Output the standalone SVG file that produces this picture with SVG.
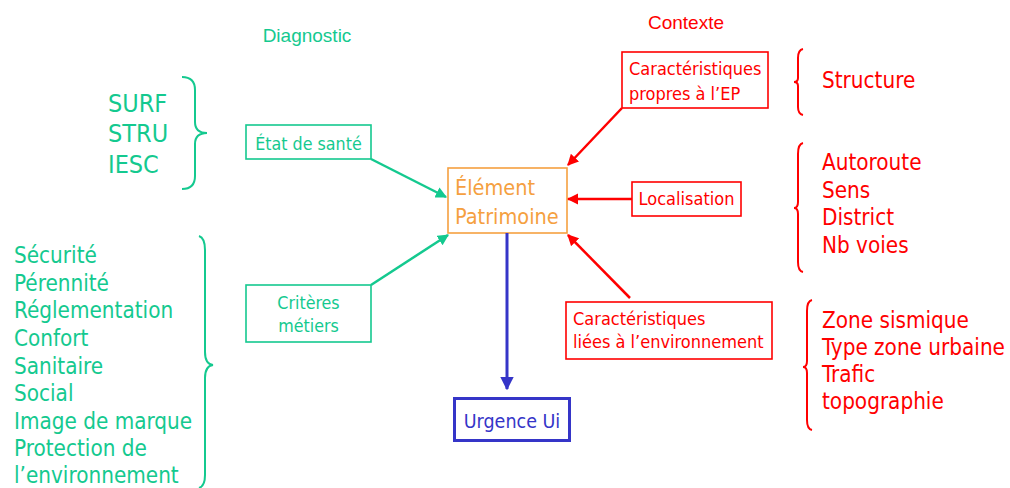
<svg xmlns="http://www.w3.org/2000/svg" width="1010" height="488" viewBox="0 0 1010 488">
<style>
.t{font-family:"DejaVu Sans Condensed","DejaVu Sans",sans-serif}
.h{font-family:"Liberation Sans",Arial,sans-serif;font-size:19px}
.g{fill:#14C98F}
.r{fill:#FF0000}
.o{fill:#F5A040}
.b{fill:#3535C8}
.gb{fill:#fff;stroke:#14C98F;stroke-width:1.6}
.rb{fill:#fff;stroke:#FF0000;stroke-width:1.6}
.brg{fill:none;stroke:#14C98F;stroke-width:2}
.brr{fill:none;stroke:#FF0000;stroke-width:2}
</style>
<defs>
<marker id="ag" viewBox="0 0 10 10" refX="9" refY="5" markerWidth="4.5" markerHeight="4.5" orient="auto" markerUnits="strokeWidth"><path d="M0,0L10,5L0,10z" fill="#14C98F"/></marker>
<marker id="ar" viewBox="0 0 10 10" refX="9" refY="5" markerWidth="4.5" markerHeight="4.5" orient="auto" markerUnits="strokeWidth"><path d="M0,0L10,5L0,10z" fill="#FF0000"/></marker>
<marker id="ab" viewBox="0 0 10 10" refX="9" refY="5" markerWidth="4.5" markerHeight="4.5" orient="auto" markerUnits="strokeWidth"><path d="M0,0L10,5L0,10z" fill="#3535C8"/></marker>
</defs>

<text class="h g" x="307" y="42" text-anchor="middle">Diagnostic</text>
<text class="h r" x="686" y="29" text-anchor="middle">Contexte</text>

<g id="codes" class="t g" font-size="25">
<text x="108" y="112">SURF</text>
<text x="108" y="142">STRU</text>
<text x="108" y="173">IESC</text>
</g>
<path id="brace1" class="brg" d="M182,77 Q195,77 195,90 L195,122 Q195,133 207,133 Q195,133 195,144 L195,176 Q195,189 182,189"/>

<g id="criteria" class="t g" font-size="22.3">
<text x="14" y="263">Sécurité</text>
<text x="14" y="291">Pérennité</text>
<text x="14" y="318">Réglementation</text>
<text x="14" y="346">Confort</text>
<text x="14" y="374">Sanitaire</text>
<text x="14" y="401">Social</text>
<text x="14" y="429">Image de marque</text>
<text x="14" y="456">Protection de</text>
<text x="14" y="483">l’environnement</text>
</g>
<path id="brace2" class="brg" d="M199,236 Q205,238 205,250 L205,352 Q205,364 213,365 Q205,366 205,378 L205,475 Q205,486 199,488"/>

<g id="etat">
<rect class="gb" x="246" y="125" width="125" height="34"/>
<text class="t g" font-size="17.7" x="308.5" y="150" text-anchor="middle">État de santé</text>
</g>
<g id="criteres">
<rect class="gb" x="246" y="285" width="125" height="57"/>
<text class="t g" font-size="17.7" x="308.5" y="309" text-anchor="middle">Critères</text>
<text class="t g" font-size="17.7" x="308.5" y="332" text-anchor="middle">métiers</text>
</g>
<g id="element">
<rect x="448" y="168" width="119" height="65" fill="#fff" stroke="#F5A040" stroke-width="1.6"/>
<text class="t o" font-size="21.5" x="455" y="195">Élément</text>
<text class="t o" font-size="21.5" x="455" y="224">Patrimoine</text>
</g>
<g id="urgence">
<rect x="454.5" y="398.5" width="115" height="42" fill="#fff" stroke="#3535C8" stroke-width="3"/>
<text class="t b" font-size="19.5" x="512" y="428" text-anchor="middle">Urgence Ui</text>
</g>
<g id="propres">
<rect class="rb" x="622" y="52" width="146" height="56"/>
<text class="t r" font-size="18" x="629" y="75">Caractéristiques</text>
<text class="t r" font-size="18" x="629" y="100">propres à l’EP</text>
</g>
<g id="localisation">
<rect class="rb" x="632" y="182" width="109" height="34"/>
<text class="t r" font-size="18" x="686.5" y="205" text-anchor="middle">Localisation</text>
</g>
<g id="liees">
<rect class="rb" x="566" y="302" width="206" height="57"/>
<text class="t r" font-size="18" x="573" y="325">Caractéristiques</text>
<text class="t r" font-size="18" x="573" y="348">liées à l’environnement</text>
</g>

<path id="brace3" class="brr" d="M803,49 Q798,50 798,58 L798,78 Q798,82 794,82 Q798,82 798,86 L798,107 Q798,114 803,115"/>
<text class="t r" font-size="22.3" x="822" y="88">Structure</text>
<path id="brace4" class="brr" d="M803,143 Q798,144 798,154 L798,202 Q798,208 794,208 Q798,208 798,214 L798,262 Q798,271 803,272"/>
<g id="loclist" class="t r" font-size="22.3">
<text x="822" y="170">Autoroute</text>
<text x="822" y="198">Sens</text>
<text x="822" y="225">District</text>
<text x="822" y="253">Nb voies</text>
</g>
<path id="brace5" class="brr" d="M812,300 Q807,301 807,311 L807,361 Q807,367 803,367 Q807,367 807,373 L807,420 Q807,429 812,430"/>
<g id="envlist" class="t r" font-size="22.3">
<text x="822" y="328">Zone sismique</text>
<text x="822" y="355">Type zone urbaine</text>
<text x="822" y="382">Trafic</text>
<text x="822" y="409">topographie</text>
</g>

<g id="connectors" fill="none">
<line x1="371" y1="159" x2="446" y2="197" stroke="#14C98F" stroke-width="2.5" marker-end="url(#ag)"/>
<line x1="371" y1="285" x2="448" y2="235" stroke="#14C98F" stroke-width="2.5" marker-end="url(#ag)"/>
<line x1="622" y1="108" x2="568" y2="165" stroke="#FF0000" stroke-width="2.5" marker-end="url(#ar)"/>
<line x1="632" y1="199" x2="568" y2="199" stroke="#FF0000" stroke-width="2.5" marker-end="url(#ar)"/>
<line x1="630" y1="298" x2="568" y2="235" stroke="#FF0000" stroke-width="2.5" marker-end="url(#ar)"/>
<line x1="507" y1="233" x2="507" y2="389" stroke="#3535C8" stroke-width="3" marker-end="url(#ab)"/>
</g>
</svg>
